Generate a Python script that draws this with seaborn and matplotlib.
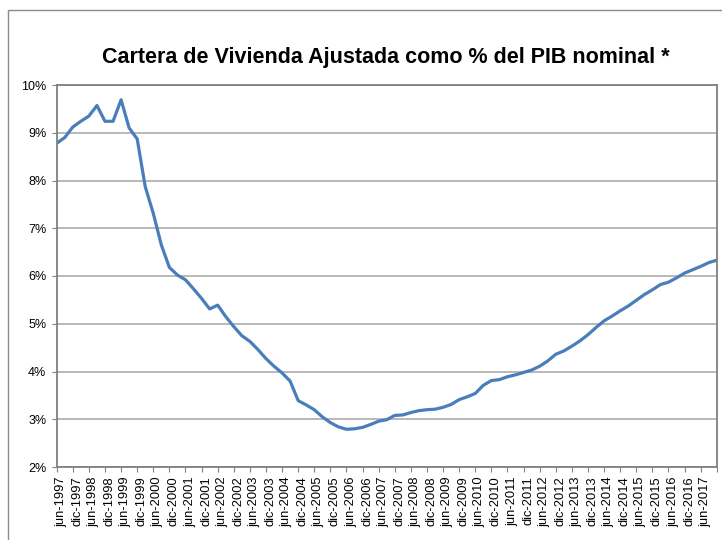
import matplotlib
matplotlib.use("Agg")
import matplotlib.pyplot as plt
import matplotlib.transforms as mtransforms
from matplotlib.patches import Rectangle
from matplotlib.ticker import FuncFormatter
import numpy as np
import pandas as pd
import seaborn as sns

# Quarterly series, jun-1997 .. dic-2017 (percent of nominal GDP)
cartera_pct = [
    8.78, 8.90, 9.12, 9.24, 9.35, 9.57, 9.24, 9.24, 9.69, 9.10,
    8.87, 7.87, 7.31, 6.65, 6.18, 6.02, 5.92, 5.73, 5.53, 5.31,
    5.39, 5.15, 4.94, 4.75, 4.63, 4.46, 4.27, 4.11, 3.97, 3.80,
    3.39, 3.30, 3.20, 3.05, 2.93, 2.84, 2.79, 2.80, 2.83, 2.89,
    2.96, 2.99, 3.08, 3.09, 3.14, 3.18, 3.20, 3.21, 3.25, 3.31,
    3.41, 3.47, 3.54, 3.71, 3.81, 3.83, 3.89, 3.93, 3.98, 4.03,
    4.11, 4.22, 4.36, 4.43, 4.53, 4.64, 4.77, 4.92, 5.06, 5.16,
    5.27, 5.37, 5.49, 5.61, 5.71, 5.82, 5.87, 5.96, 6.06, 6.13,
    6.20, 6.28, 6.33,
]

# Semiannual category labels shown on the x axis
label_years = list(range(1997, 2018))
tick_labels = []
for yr in label_years:
    tick_labels.append(f"jun-{yr}")
    if yr < 2017:
        tick_labels.append(f"dic-{yr}")

y_ticks = [2, 3, 4, 5, 6, 7, 8, 9, 10]
title = "Cartera de Vivienda Ajustada como % del PIB nominal *"

df = pd.DataFrame({"t": np.arange(len(cartera_pct)), "valor": cartera_pct})

sns.set_style("white")
plt.rcParams["font.family"] = ["Liberation Sans", "DejaVu Sans"]

fig = plt.figure(figsize=(7.22, 5.40), dpi=100)
ax = fig.add_axes([56.7 / 722, 1 - 467 / 540, 660 / 722, 382 / 540])

sns.lineplot(data=df, x="t", y="valor", ax=ax, color="#4A7EBB", linewidth=2.3)

ax.set_xlim(0, len(cartera_pct) - 1)
ax.set_ylim(2, 10)
ax.set_yticks(y_ticks)
ax.yaxis.set_major_formatter(FuncFormatter(lambda v, p: f"{v:.0f}%"))
ax.grid(axis="y", color="#a6a6a6", linewidth=1.1)
ax.grid(axis="x", visible=False)
ax.set_axisbelow(True)

xt = list(range(0, len(cartera_pct), 2))
ax.set_xticks(xt)
ax.set_xticklabels(tick_labels + [""] * (len(xt) - len(tick_labels)),
                   rotation=90, fontsize=9.3, color="black")
ax.tick_params(axis="x", direction="out", length=3.5, width=0.8,
               color="#808080", pad=3, bottom=True)
ax.tick_params(axis="y", direction="out", length=3.5, width=0.8,
               color="#808080", pad=4, labelsize=9, left=True)
for lbl in ax.get_yticklabels():
    lbl.set_color("black")

offset = mtransforms.ScaledTranslation(4.5 / 100, 0, fig.dpi_scale_trans)
for lbl in ax.get_xticklabels():
    lbl.set_transform(lbl.get_transform() + offset)
    lbl.set_verticalalignment("top")

for side in ["left", "bottom", "right", "top"]:
    ax.spines[side].set_visible(True)
    ax.spines[side].set_color("#808080")
    ax.spines[side].set_linewidth(1.3)

ax.set_xlabel("")
ax.set_ylabel("")

fig.text(386 / 722, 1 - 58 / 540, title, ha="center", va="center",
         fontsize=15.5, fontweight="bold", color="black")

# chart-area border
fig.patches.append(Rectangle((8 / 722, -0.1), 1.2, (1 - 10 / 540) + 0.1,
                             transform=fig.transFigure, fill=False,
                             edgecolor="#8c8c8c", linewidth=1.0))

fig.savefig("out.png", dpi=100)
